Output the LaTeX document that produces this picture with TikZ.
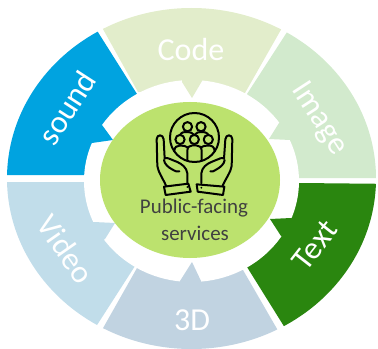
\documentclass[tikz,border=0pt]{standalone}
\usepackage{fontspec}
\setmainfont{Carlito}
\definecolor{csound}{HTML}{00A3E0}
\definecolor{ccode}{HTML}{E2EDCB}
\definecolor{cimage}{HTML}{D2EACD}
\definecolor{ctext}{HTML}{2A860F}
\definecolor{cthreed}{HTML}{C1D3E1}
\definecolor{cvideo}{HTML}{C1DDEA}
\definecolor{chub}{HTML}{BCE26E}
\definecolor{clabel}{HTML}{404040}
\tikzset{
  seglabel/.style={text=white,font=\fontsize{24}{24}\selectfont,inner sep=0pt},
  hublabel/.style={text=clabel,font=\fontsize{15.7}{16}\selectfont,inner sep=0pt},
  iconline/.style={draw=black,line width=1.5pt,line cap=round,line join=round},
}
\begin{document}
\begin{tikzpicture}[x=0.75pt,y=-0.75pt]
\useasboundingbox (0,0) rectangle (378,349);
\begin{scope}
\clip (191.5,178.5) ellipse [x radius=184.5,y radius=170.5];
% sectors
\fill[ccode] (138,92) -- (89,4) -- (295,5) -- (245,93) -- cycle;
\fill[cimage] (247,94) -- (300,12) -- (400,100) -- (400,178) -- (298,178) -- cycle;
\fill[ctext] (299,183) -- (400,184) -- (400,260) -- (300,352) -- (247,267) -- cycle;
\fill[cthreed] (137,268) -- (85,360) -- (295,360) -- (243,270) -- cycle;
\fill[cvideo] (84,182) -- (-10,182) -- (-10,260) -- (81,350) -- (135,266) -- cycle;
\fill[csound] (85,175) -- (-10,175) -- (-10,90) -- (84,10) -- (137,94) -- cycle;
% white ring
\fill[white] (191.5,181) ellipse [x radius=107.5,y radius=101];
% notches
\fill[ccode] (182,82) -- (192,98) -- (202,81) -- (202,70) -- (182,70) -- cycle;
\fill[cimage] (279,123) -- (269,139) -- (290,140) -- (305,130) -- (295,115) -- cycle;
\fill[ctext] (291,218) -- (270,219) -- (281,236) -- (300,245) -- (310,225) -- cycle;
\fill[cthreed] (180,281) -- (192,262) -- (201,281) -- (201,295) -- (180,295) -- cycle;
\fill[cvideo] (94,222) -- (115,223) -- (105,239) -- (85,250) -- (75,225) -- cycle;
\fill[csound] (92,143) -- (113,140) -- (102,125) -- (85,115) -- (75,145) -- cycle;
\end{scope}
% hub
\fill[chub] (190,180) ellipse [x radius=90,y radius=78];
% icon: circle and people
\draw[iconline] (194.5,137.5) circle [radius=24.5];
\draw[iconline] (187.5,126.7) circle [radius=4.6];
\draw[iconline] (201,126.7) circle [radius=4.6];
\draw[iconline] (180,139.5) circle [radius=4.6];
\draw[iconline] (194.3,139.5) circle [radius=4.6];
\draw[iconline] (208.3,139.5) circle [radius=4.6];
\draw[iconline] (187.3,160.5) -- (187.3,151) .. controls (187.3,147) and (189.5,145.5) .. (192,145.5) -- (196.5,145.5) .. controls (199.5,145.5) and (201.7,147) .. (201.7,151) -- (201.7,160.5);
\draw[iconline] (174.3,151) .. controls (174.5,147) and (177,145.5) .. (180,145.5) .. controls (183,145.5) and (186,146) .. (188,147.5);
\draw[iconline] (214.6,151) .. controls (214.4,147) and (212,145.5) .. (208.5,145.5) .. controls (205.5,145.5) and (203,146) .. (200.5,147.5);
\draw[iconline] (180.5,134) .. controls (181,132.5) and (183.5,132) .. (187.5,132) .. controls (190.5,132) and (192.5,133) .. (193.5,134.5);
\draw[iconline] (195,134.5) .. controls (196.5,132.5) and (198.5,132) .. (201,132) .. controls (204.5,132) and (207,132.5) .. (208,134);
% icon: hands, coordinates in the 3x crop
\begin{scope}[shift={(100,90)},x=0.25pt,y=-0.25pt]
\draw[iconline] (262,282) -- (262,250) .. controls (260,232) and (245,222) .. (232,216) -- (205,205) .. controls (199,203) and (196,204) .. (194,206) -- (191,148) .. controls (190,132) and (170,132) .. (170,148) -- (172,228) .. controls (174,245) and (190,268) .. (198,287);
\draw[iconline] (192,210) .. controls (193,222) and (205,232) .. (216,238) .. controls (225,243) and (233,247) .. (238,244);
\draw[iconline] (192,290) -- (265,281) -- (272,305) -- (197,315) -- cycle;
\draw[iconline] (304,280) -- (304,250) .. controls (306,232) and (320,222) .. (334,216) -- (361,205) .. controls (367,203) and (370,204) .. (372,206) -- (376,148) .. controls (377,132) and (397,132) .. (397,148) -- (395,228) .. controls (393,245) and (376,268) .. (368,287);
\draw[iconline] (374,210) .. controls (373,222) and (361,232) .. (350,238) .. controls (341,243) and (336,247) .. (331,244);
\draw[iconline] (290,283) -- (373,290) -- (369,315) -- (293,305) -- cycle;
\fill (262,291) circle [radius=3];
\fill (304,293) circle [radius=3];
\end{scope}
% labels
\node[hublabel] (hubA) at (194,208) {Public-facing};
\node[hublabel] (hubB) at (195,233) {services};
\node[seglabel] (code) at (191,50) {Code};
\node[seglabel,rotate=-57] (image) at (319,119) {Image};
\node[seglabel,rotate=52] (textlab) at (315,245) {Text};
\node[seglabel] (threed) at (192,320) {3D};
\node[seglabel,rotate=-55] (video) at (66,249) {Video};
\node[seglabel,rotate=57] (sound) at (67,108) {sound};
\end{tikzpicture}
\end{document}
